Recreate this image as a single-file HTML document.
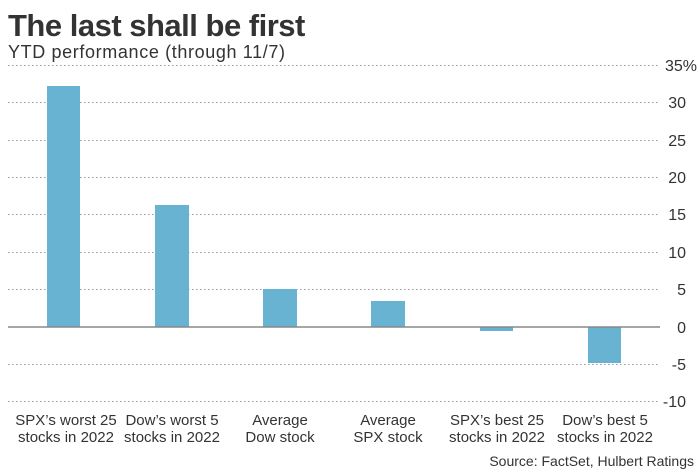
<!DOCTYPE html>
<html><head><meta charset="utf-8"><style>
body{margin:0;background:#fff;width:700px;height:471px;overflow:hidden}
svg text{font-family:"Liberation Sans",sans-serif;fill:#333}
</style></head><body>
<svg width="700" height="471" xmlns="http://www.w3.org/2000/svg">
<text x="8" y="36" font-size="31" font-weight="bold" fill="#333" letter-spacing="-0.5">The last shall be first</text>
<text x="8" y="58" font-size="18" fill="#444" textLength="277">YTD performance (through 11/7)</text>
<g stroke="#999" stroke-width="1" stroke-dasharray="1.5,2.5">
<line x1="8" x2="660" y1="65.5" y2="65.5"/>
<line x1="8" x2="660" y1="102.5" y2="102.5"/>
<line x1="8" x2="660" y1="140.5" y2="140.5"/>
<line x1="8" x2="660" y1="177.5" y2="177.5"/>
<line x1="8" x2="660" y1="214.5" y2="214.5"/>
<line x1="8" x2="660" y1="252.5" y2="252.5"/>
<line x1="8" x2="660" y1="289.5" y2="289.5"/>
<line x1="8" x2="660" y1="364.5" y2="364.5"/>
<line x1="8" x2="660" y1="401.5" y2="401.5"/>
</g>
<g fill="#67b3d1">
<rect x="47" y="86" width="33" height="241"/>
<rect x="155" y="205" width="34" height="122"/>
<rect x="263" y="289" width="34" height="38"/>
<rect x="371" y="301" width="34" height="26"/>
<rect x="480" y="327" width="33" height="4"/>
<rect x="588" y="327" width="33" height="36"/>
</g>
<line x1="8" x2="660" y1="327" y2="327" stroke="#888" stroke-width="1.5"/>
<g font-size="16" text-anchor="end">
<text x="697" y="71">35%</text>
<text x="686" y="108">30</text>
<text x="686" y="146">25</text>
<text x="686" y="183">20</text>
<text x="686" y="220">15</text>
<text x="686" y="258">10</text>
<text x="686" y="295">5</text>
<text x="686" y="333">0</text>
<text x="686" y="370">-5</text>
<text x="686" y="407">-10</text>
</g>
<g font-size="15" text-anchor="middle">
<text x="66" y="425">SPX’s worst 25</text><text x="66" y="442">stocks in 2022</text>
<text x="172" y="425">Dow’s worst 5</text><text x="172" y="442">stocks in 2022</text>
<text x="280" y="425">Average</text><text x="280" y="442">Dow stock</text>
<text x="388" y="425">Average</text><text x="388" y="442">SPX stock</text>
<text x="497" y="425">SPX’s best 25</text><text x="497" y="442">stocks in 2022</text>
<text x="605" y="425">Dow’s best 5</text><text x="605" y="442">stocks in 2022</text>
</g>
<text x="694" y="466" font-size="14" text-anchor="end" fill="#444">Source: FactSet, Hulbert Ratings</text>
</svg>
</body></html>
